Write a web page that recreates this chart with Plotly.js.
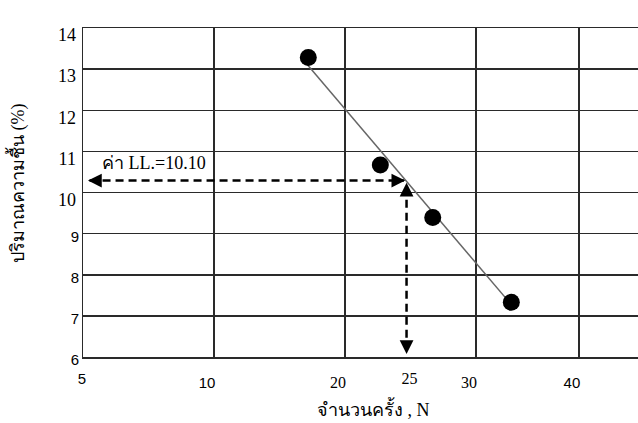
<!DOCTYPE html>
<html>
<head>
<meta charset="utf-8">
<script src="https://cdn.plot.ly/plotly-3.0.1.min.js"></script>
<style>html,body{margin:0;padding:0;background:#fff;}</style>
</head>
<body>
<div id="chart" style="width:638px;height:423px;"></div>
<script>
// ---- data ----
const blowsN   = [17.2, 22.7, 26.7, 32.7];      // number of blows, N
const moisture = [13.28, 10.67, 9.39, 7.33];    // water content (%)
const fitN = [17.1, 32.6];                       // flow line ends
const fitW = [13.12, 7.31];
const llN = 24.7;                                // N = 25 guide
const llW = 10.29;                               // liquid limit guide
const llLabel = 'ค่า LL.=10.10';

// axis ticks
const xGridVals = [0, 10, 20, 30, 37.86];
const xGridText = ['', '10', '20', '30', '40'];
const xGridSans = [false, true, false, false, true];
const xExtraVals = [0, 25];
const xExtraText = ['5', '25'];
const xExtraSans = [true, false];
const yGridVals = [6, 7, 8, 9, 10, 11, 12, 13, 14];
const yUpperText = ['', '', '', '', '10', '11', '12', '13', '14'];
const yLowerVals = [6, 7, 8, 9];
const yLowerText = ['6', '7', '8', '9'];

const xTitle = 'จำนวนครั้ง , N';
const yTitle = 'ปริมาณความชื้น (%)';

const SERIF = 'Liberation Serif, Times New Roman, serif';
const SANS = 'Liberation Sans';
function sty(t, sans) {
  if (!t) return t;
  return sans ? '<span style="font-family:Liberation Sans;font-size:15px">' + t + '</span>' : t;
}

const xMax = 42.37;
const gridColor = '#2a2a2a';

const traces = [
  { x: fitN, y: fitW, mode: 'lines', line: { color: '#666', width: 1.5 }, hoverinfo: 'skip' },
  { x: [0.5, llN - 0.2], y: [llW, llW], mode: 'lines',
    line: { color: '#000', width: 2.5, dash: '8px,5px' }, hoverinfo: 'skip' },
  { x: [llN, llN], y: [llW - 0.15, 6.1], mode: 'lines',
    line: { color: '#000', width: 2.5, dash: '8px,5px' }, hoverinfo: 'skip' },
  { x: blowsN, y: moisture, mode: 'markers',
    marker: { color: '#000', size: 17, symbol: 'circle' } },
  // carrier so the label-only overlay axes are drawn
  { x: [-10], y: [-10], xaxis: 'x2', yaxis: 'y2', mode: 'markers',
    marker: { size: 1, opacity: 0 }, hoverinfo: 'skip' }
];

const arrowBase = { text: '', showarrow: true, arrowhead: 2, arrowsize: 1.1,
  arrowwidth: 2.5, arrowcolor: '#000', standoff: 0, xref: 'x', yref: 'y' };

const layout = {
  width: 638, height: 423,
  margin: { l: 83, r: 0, t: 28, b: 66 },
  paper_bgcolor: '#fff', plot_bgcolor: '#fff',
  showlegend: false,
  font: { family: SERIF, color: '#000' },
  xaxis: {
    range: [0, xMax], tickmode: 'array', tickvals: xGridVals,
    ticktext: xGridText.map((t, i) => sty(t, xGridSans[i])),
    showgrid: true, gridcolor: gridColor, gridwidth: 1.5,
    zeroline: false, showline: true, linecolor: gridColor, linewidth: 1.5, mirror: true,
    ticks: '', ticklabelshift: -7, ticklabelstandoff: 10,
    tickfont: { family: SERIF, size: 16, color: '#000' }
  },
  xaxis2: {
    overlaying: 'x', anchor: 'y', side: 'bottom',
    range: [0, xMax], tickmode: 'array', tickvals: xExtraVals,
    ticktext: xExtraText.map((t, i) => sty(t, xExtraSans[i])),
    showgrid: false, zeroline: false, showline: false,
    ticks: '', ticklabelshift: -1, ticklabelstandoff: 10,
    tickfont: { family: SERIF, size: 16, color: '#000' }
  },
  yaxis: {
    range: [6, 14], tickmode: 'array', tickvals: yGridVals, ticktext: yUpperText,
    showgrid: true, gridcolor: gridColor, gridwidth: 1.5,
    zeroline: false, showline: true, linecolor: gridColor, linewidth: 1.5,
    ticks: '', ticklabelshift: 7, ticklabelstandoff: 2,
    tickfont: { family: SERIF, size: 18, color: '#000' }
  },
  yaxis2: {
    overlaying: 'y', anchor: 'x', side: 'left',
    range: [6, 14], tickmode: 'array', tickvals: yLowerVals, ticktext: yLowerText,
    showgrid: false, zeroline: false, showline: false,
    ticks: '', ticklabelshift: 3, ticklabelstandoff: 3,
    tickfont: { family: SANS, size: 15, color: '#000' }
  },
  annotations: [
    { text: llLabel, xref: 'x', yref: 'y', x: 1.3, y: 10.71, xanchor: 'left', yanchor: 'middle',
      showarrow: false, font: { family: SERIF, size: 18, color: '#000' } },
    { text: xTitle, xref: 'paper', yref: 'paper', x: 0.524, y: -0.157, xanchor: 'center', yanchor: 'middle',
      showarrow: false, font: { family: SERIF, size: 18, color: '#000' } },
    { text: yTitle, xref: 'paper', yref: 'paper', x: -0.119, y: 0.529, xanchor: 'center', yanchor: 'middle',
      textangle: -90, showarrow: false, font: { family: SERIF, size: 18, color: '#000' } },
    Object.assign({}, arrowBase, { x: 0.38, y: llW, ax: 8, ay: 0 }),
    Object.assign({}, arrowBase, { x: llN - 0.1, y: llW, ax: -8, ay: 0 }),
    Object.assign({}, arrowBase, { x: llN, y: llW - 0.05, ax: 0, ay: 8 }),
    Object.assign({}, arrowBase, { x: llN, y: 6.07, ax: 0, ay: -8 })
  ]
};

Plotly.newPlot('chart', traces, layout, { displayModeBar: false, staticPlot: true });
</script>
</body>
</html>
